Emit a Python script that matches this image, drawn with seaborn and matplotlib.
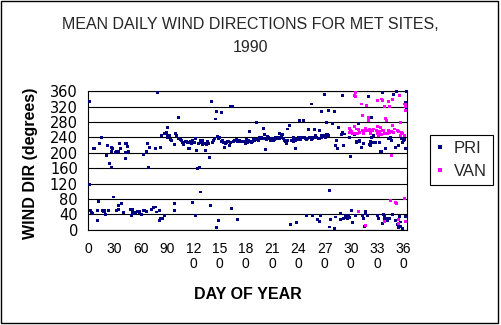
import matplotlib
matplotlib.use("Agg")
import matplotlib.pyplot as plt
import seaborn as sns
import pandas as pd
from matplotlib.lines import Line2D
from matplotlib.patches import Rectangle

# ---------------- data ----------------
TITLE_LINE1 = "MEAN DAILY WIND DIRECTIONS FOR MET SITES,"
TITLE_LINE2 = "1990"
X_LABEL = "DAY OF YEAR"
Y_LABEL = "WIND DIR (degrees)"
SERIES = ["PRI", "VAN"]
COLORS = ["#000080", "#FF00FF"]

X_TICKS = [0, 30, 60, 90, 120, 150, 180, 210, 240, 270, 300, 330, 360]
X_TICK_LABELS = ["0", "30", "60", "90", "12\n0", "15\n0", "18\n0", "21\n0",
                 "24\n0", "27\n0", "30\n0", "33\n0", "36\n0"]
Y_TICKS = [0, 40, 80, 120, 160, 200, 240, 280, 320, 360]

# PRI, days 0-90
PRI_DAY_A = [1, 1, 3, 4, 5, 6, 7, 10, 11, 12, 13, 15, 16, 17, 18, 19, 20, 21, 22, 23,
             24, 26, 27, 27, 28, 29, 31, 32, 32, 34, 35, 35, 36, 37, 38, 40, 42, 43, 43, 44,
             45, 46, 48, 49, 50, 51, 53, 54, 55, 56, 58, 59, 61, 63, 63, 64, 67, 67, 68, 69,
             70, 72, 74, 75, 77, 77, 78, 79, 81, 81, 82, 83, 84, 84, 85, 87, 87, 89, 90, 90]
PRI_DIR_A = [333, 118, 51, 45, 42, 212, 210, 24, 49, 73, 225, 241, 51, 48, 46, 50, 39, 192, 220, 49,
             172, 203, 214, 162, 210, 85, 200, 204, 49, 52, 204, 62, 223, 210, 68, 45, 200, 223, 186, 225,
             217, 203, 53, 36, 53, 45, 42, 45, 46, 48, 45, 48, 39, 195, 49, 49, 203, 48, 223, 161,
             214, 53, 57, 59, 210, 59, 46, 358, 49, 24, 28, 214, 28, 246, 28, 38, 251, 251, 246, 241]

# PRI, days 89-180
PRI_DAY_B = [89, 91, 93, 94, 95, 98, 99, 99, 100, 101, 103, 103, 105, 106, 109, 111, 112, 114, 115, 116,
             117, 119, 119, 122, 122, 124, 125, 126, 127, 128, 128, 129, 131, 131, 134, 134, 135, 136, 138, 140,
             141, 143, 144, 145, 146, 146, 148, 149, 149, 152, 152, 154, 156, 157, 159, 160, 161, 163, 164, 165,
             166, 167, 169, 171, 171, 174, 176, 179, 180,
             108, 113, 118, 121, 130, 133, 137, 142, 150, 153, 158, 162, 168, 173, 177]
PRI_DIR_B = [252, 267, 244, 234, 231, 221, 68, 49, 251, 244, 238, 291, 235, 231, 221, 230, 230, 226, 212, 210,
             230, 232, 70, 238, 38, 206, 158, 223, 163, 232, 98, 226, 231, 222, 224, 206, 221, 230, 187, 62,
             333, 232, 236, 288, 307, 5, 243, 238, 24, 230, 304, 226, 213, 223, 230, 230, 218, 320, 56, 320,
             230, 232, 235, 230, 27, 230, 230, 230, 223,
             228, 228, 225, 227, 229, 224, 225, 228, 240, 232, 226, 228, 233, 231, 229]

# PRI, days 181-272
PRI_DAY_C = [181, 182, 184, 184, 186, 187, 189, 190, 191, 192, 193, 195, 196, 198, 199, 200, 201, 202, 204, 205,
             207, 208, 209, 210, 212, 214, 215, 216, 218, 219, 219, 221, 222, 224, 225, 226, 228, 228, 230, 231,
             234, 235, 237, 237, 238, 239, 240, 241, 242, 244, 246, 247, 249, 249, 252, 253, 255, 255, 256, 256,
             258, 260, 261, 262, 264, 264, 264, 265, 266, 267, 267, 269, 270, 271, 272, 272,
             183, 188, 194, 197, 203, 206, 211, 213, 217, 220, 223, 227, 232, 236, 243, 245, 248, 251, 254, 257,
             259, 263, 268]
PRI_DIR_C = [235, 226, 255, 230, 226, 230, 235, 232, 235, 278, 235, 238, 240, 240, 238, 263, 248, 209, 234, 243,
             237, 232, 237, 235, 232, 239, 237, 239, 241, 251, 237, 244, 247, 232, 230, 224, 231, 262, 270, 13,
             230, 239, 211, 232, 18, 235, 241, 284, 235, 239, 284, 239, 235, 36, 260, 241, 235, 327, 237, 38,
             260, 244, 239, 27, 257, 236, 21, 36, 244, 307, 241, 246, 352, 239, 278, 248,
             232, 229, 233, 236, 236, 239, 236, 235, 238, 240, 236, 228, 233, 236, 237, 240, 238, 236, 240, 239,
             241, 238, 243]

# PRI, days 273-364
PRI_DAY_D = [273, 274, 275, 276, 277, 276, 279, 281, 281, 282, 283, 284, 285, 286, 288, 288, 289, 290, 292, 292,
             293, 294, 294, 296, 297, 298, 298, 300, 301, 302, 304, 305, 307, 309, 310, 310, 313, 314, 316, 317,
             317, 319, 320, 321, 322, 323, 324, 324, 325, 326, 331, 332, 334, 335, 336, 336, 337, 338, 339, 341,
             342, 343, 344, 345, 348, 349, 351, 351, 352, 353, 355, 356, 357, 357, 359, 359, 360, 361, 362, 362,
             363, 364, 364,
             291, 306, 312, 315, 328, 333, 340, 347, 354, 358]
PRI_DIR_D = [248, 244, 310, 101, 26, 7, 276, 307, 3, 220, 33, 231, 212, 267, 26, 43, 248, 350, 220, 30,
             249, 36, 32, 29, 36, 240, 31, 190, 50, 18, 248, 38, 226, 276, 229, 232, 38, 30, 9, 47,
             41, 36, 347, 221, 219, 229, 291, 240, 228, 245, 36, 28, 204, 204, 16, 358, 40, 36, 30, 30,
             24, 238, 28, 240, 40, 352, 25, 213, 360, 13, 6, 34, 20, 8, 2, 226, 231, 235, 332, 210,
             34, 360, 318,
             253, 229, 214, 224, 228, 226, 210, 232, 220, 238]

# VAN, days 298-364
VAN_DAY = [298, 299, 300, 302, 304, 304, 305, 305, 305, 308, 309, 309, 312, 313, 313, 314, 316, 317, 317, 318,
           320, 320, 321, 323, 325, 329, 330, 330, 331, 333, 333, 334, 335, 335, 336, 336, 337, 338, 338, 339,
           340, 341, 342, 343, 343, 344, 345, 346, 346, 348, 348, 349, 351, 352, 353, 354, 355, 355, 356, 357,
           358, 359, 361, 361, 361, 362, 362, 363, 363,
           301, 306, 310, 319, 322, 326, 332, 344, 350, 357]
VAN_DIR = [263, 252, 258, 250, 268, 349, 357, 347, 250, 251, 260, 47, 327, 296, 257, 251, 257, 263, 12, 322,
           293, 285, 260, 257, 257, 259, 337, 251, 268, 256, 251, 265, 340, 247, 335, 259, 257, 21, 251, 320,
           290, 283, 250, 333, 259, 320, 77, 256, 192, 339, 272, 252, 70, 67, 259, 15, 256, 26, 348, 278,
           252, 250, 246, 327, 81, 22, 310, 325, 320,
           256, 262, 254, 258, 250, 262, 246, 252, 262, 245]

PRI_DAY = PRI_DAY_A + PRI_DAY_B + PRI_DAY_C + PRI_DAY_D
PRI_DIR = PRI_DIR_A + PRI_DIR_B + PRI_DIR_C + PRI_DIR_D

df = pd.concat([
    pd.DataFrame({"day": PRI_DAY, "dir": PRI_DIR, "site": SERIES[0]}),
    pd.DataFrame({"day": VAN_DAY, "dir": VAN_DIR, "site": SERIES[1]}),
], ignore_index=True)

# ---------------- figure ----------------
sns.set_style("white")
plt.rcParams["font.family"] = ["Liberation Sans", "DejaVu Sans"]

W, H = 501, 325
fig = plt.figure(figsize=(W / 100, H / 100), dpi=100)
ax = fig.add_axes([88.3 / W, (H - 229.7) / H, (407 - 88.3) / W, (229.7 - 91.3) / H])

sns.scatterplot(data=df, x="day", y="dir", hue="site",
                palette=dict(zip(SERIES, COLORS)), marker="s", s=4.5,
                linewidth=0, legend=False, ax=ax, clip_on=False, zorder=3)

ax.set_xlim(0, 364.2)
ax.set_ylim(0, 360)
ax.set_xticks(X_TICKS)
ax.set_xticklabels(X_TICK_LABELS)
for lbl in ax.get_xticklabels():
    lbl.set_linespacing(1.05)
ax.set_yticks(Y_TICKS)
ax.set_axisbelow(True)
ax.yaxis.grid(True, color="black", linewidth=0.8)
ax.xaxis.grid(False)
for s in ax.spines.values():
    s.set_visible(True)
    s.set_color("black")
    s.set_linewidth(0.8)
ax.tick_params(direction="out", length=3.5, width=0.8, color="black",
               labelsize=10, labelcolor="black")
ax.tick_params(axis="x", pad=5.5)
ax.tick_params(axis="y", pad=4)
for lbl in ax.get_yticklabels():
    lbl.set_fontfamily(["DejaVu Sans"])
    lbl.set_fontsize(10.5)

ax.set_xlabel(X_LABEL, fontsize=11.5, fontweight="bold", color="black")
ax.xaxis.set_label_coords(0.5, -(299 - 229.7) / 138.4)
ax.xaxis.label.set_va("baseline")
ax.set_ylabel(Y_LABEL, fontsize=11.5, fontweight="bold", color="black")
ax.yaxis.set_label_coords((35 - 88.3) / 318.7, 0.5 - (163 - 160.5) / 138.4)
ax.yaxis.label.set_va("baseline")

fig.text(0.5, 1 - 29 / H, TITLE_LINE1, ha="center", va="baseline", fontsize=11.5)
fig.text(0.5, 1 - 52 / H, TITLE_LINE2, ha="center", va="baseline", fontsize=11.5)

handles = [Line2D([], [], marker="s", linestyle="none", markersize=2.2,
                  markerfacecolor=c, markeredgewidth=0) for c in COLORS]
leg = fig.legend(handles, SERIES, loc="center", bbox_to_anchor=(461 / W, 1 - 160 / H),
                 frameon=True, fancybox=False, edgecolor="black", framealpha=1,
                 fontsize=12, handlelength=0.6, handletextpad=0.5, borderpad=0.35,
                 labelspacing=0.45, borderaxespad=0)
leg.get_frame().set_linewidth(0.8)

fig.patches.append(Rectangle((0.5 / W, (H - 323.3) / H), 497 / W, (323.3 - 0.5) / H,
                             transform=fig.transFigure, fill=False,
                             edgecolor="black", linewidth=1.0))

fig.savefig("out.png", dpi=100)
